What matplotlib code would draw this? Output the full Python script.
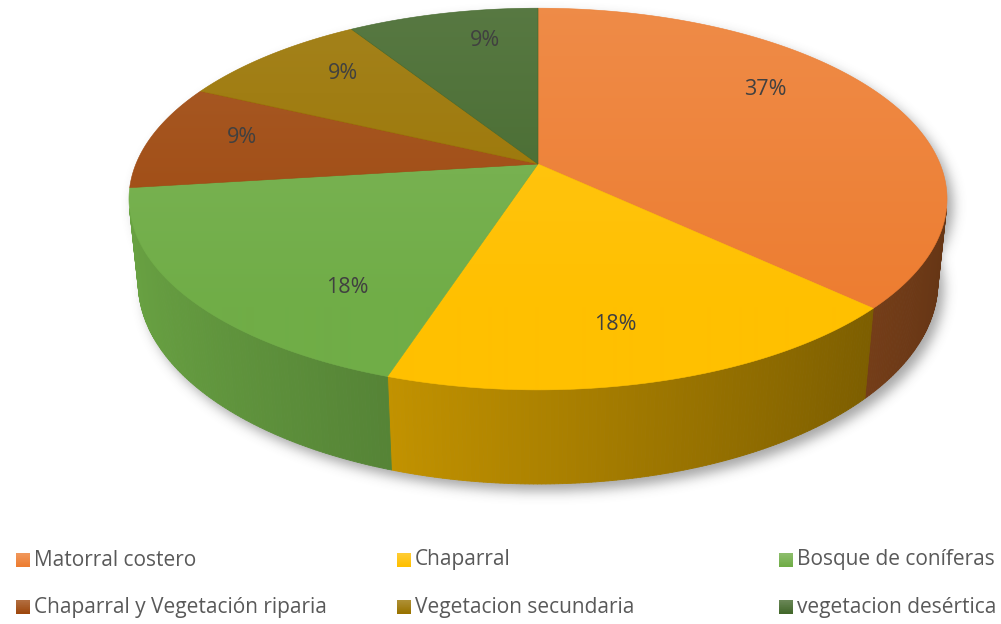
import numpy as np
import matplotlib.pyplot as plt
from matplotlib.collections import PolyCollection
from matplotlib.patches import Polygon
from matplotlib.path import Path
from matplotlib.colors import to_rgb

plt.rcParams['font.family'] = ['Open Sans', 'DejaVu Sans']

categories = ['Matorral costero', 'Chaparral', 'Bosque de coníferas',
              'Chaparral y Vegetación riparia', 'Vegetacion secundaria',
              'vegetacion desértica']
values = [37, 18, 18, 9, 9, 9]
colors = ['#ED7D31', '#FFC000', '#70AD47', '#9E480E', '#997300', '#43682B']

# label placement: angular nudge (deg) and radius on the top face
label_shift = [-12, 2, -15, 2, 4, 5]
label_r = [0.75, 0.77, 0.73, 0.77, 0.76, 0.78]

W, H = 1001, 624
fig = plt.figure(figsize=(W / 100, H / 100), dpi=100)
ax = fig.add_axes([0, 0, 1, 1])
ax.set_xlim(0, W)
ax.set_ylim(H, 0)
ax.axis('off')

# simple perspective camera looking down on the disc
tilt = np.radians(27.3)
dist = 4.84
focal = 1946
cx, cy = 538, 164
depth = 0.235


def proj(x, z, h=0.0):
    v = z * np.sin(tilt) - h * np.cos(tilt)
    w = dist - z * np.cos(tilt) - h * np.sin(tilt)
    return cx + focal * x / w, cy + focal * v / w


def rim(t, r=1.0, h=0.0):
    t = np.radians(t)
    return proj(r * np.sin(t), -r * np.cos(t), h)


frac = np.array(values, float) / sum(values)
edges = np.concatenate([[0], np.cumsum(frac) * 360])

# soft drop shadow under the pie
tt = np.linspace(0, 360, 721)
bx, by = rim(tt, h=-depth)
tx, ty = rim(tt)
yy, xx = np.mgrid[0:H, 0:W] + 0.5
pts = np.column_stack([xx.ravel(), yy.ravel()])
mask = (Path(np.column_stack([bx + 6, by + 7])).contains_points(pts) |
        Path(np.column_stack([tx + 6, ty + 7])).contains_points(pts))
mask = mask.reshape(H, W).astype(float)
k = np.exp(-0.5 * (np.arange(-18, 19) / 6.0) ** 2)
k /= k.sum()
blur = np.apply_along_axis(lambda r: np.convolve(r, k, mode='same'), 1, mask)
blur = np.apply_along_axis(lambda c: np.convolve(c, k, mode='same'), 0, blur)
shadow = np.zeros((H, W, 4))
shadow[..., :3] = 0.3
shadow[..., 3] = 0.5 * blur
ax.imshow(shadow, extent=(0, W, H, 0), aspect='auto', zorder=0)

# side walls, shaded by the direction they face
t_vis = np.degrees(np.arccos(-1 / (dist * np.cos(tilt))))
polys, cols = [], []
for i in range(len(values)):
    a, b = max(edges[i], t_vis), min(edges[i + 1], 360 - t_vis)
    if a >= b:
        continue
    ts = np.linspace(a, b, int((b - a) / 0.5) + 2)
    base = np.array(to_rgb(colors[i]))
    for s0, s1 in zip(ts[:-1], ts[1:]):
        p0, p1 = rim(s0), rim(s1)
        p2, p3 = rim(s1, h=-depth), rim(s0, h=-depth)
        polys.append([p0, p1, p2, p3])
        shade = 0.68 - 0.26 * np.sin(np.radians(0.5 * (s0 + s1)))
        cols.append(np.clip(base * shade, 0, 1))
ax.add_collection(PolyCollection(polys, facecolors=cols, edgecolors=cols,
                                 linewidths=0.6, zorder=2))

# top faces with a light vertical gradient
gy = np.linspace(0, H, H)
wmix = np.clip(0.11 * (1 - (gy - 7) / 300), 0, 0.11)[:, None, None]
for i in range(len(values)):
    ts = np.linspace(edges[i], edges[i + 1], 200)
    ex, ey = rim(ts)
    verts = np.column_stack([np.r_[cx, ex], np.r_[cy, ey]])
    patch = Polygon(verts, closed=True, facecolor='none', edgecolor='none')
    ax.add_patch(patch)
    base = np.array(to_rgb(colors[i]))[None, None, :]
    img = base * (1 - wmix) + wmix
    im = ax.imshow(img, extent=(0, W, H, 0), aspect='auto', zorder=3,
                   interpolation='bilinear')
    im.set_clip_path(patch)
    # thin outline to close seams between slices
    ax.add_patch(Polygon(verts, closed=True, facecolor='none',
                         edgecolor=colors[i], linewidth=0.4, zorder=3))

# percentage labels
for i, v in enumerate(values):
    mid = 0.5 * (edges[i] + edges[i + 1]) + label_shift[i]
    lx, ly = rim(mid, r=label_r[i])
    ax.text(lx, ly, f'{v}%', ha='center', va='center', fontsize=15.5,
            color='#404040', zorder=5)

# legend, three columns by two rows
col_x = [16, 397, 779]
row_y = [560, 607]
sq = 14
for i, name in enumerate(categories):
    x0 = col_x[i % 3]
    y0 = row_y[i // 3]
    base = np.array(to_rgb(colors[i]))
    g = np.linspace(0.2, 0, 8)[:, None, None]
    ax.imshow(base[None, None, :] * (1 - g) + g,
              extent=(x0, x0 + sq, y0 + sq / 2, y0 - sq / 2),
              aspect='auto', zorder=4)
    ax.text(x0 + sq + 4, y0, name, ha='left', va='center', fontsize=15,
            color='#595959')

ax.set_xlim(0, W)
ax.set_ylim(H, 0)
fig.savefig('out.png', dpi=100)
